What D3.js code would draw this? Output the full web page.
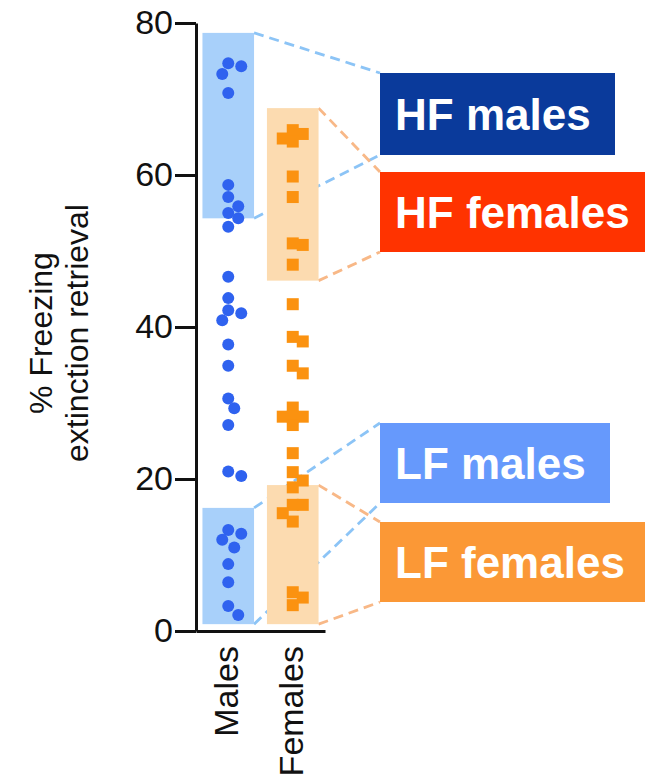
<!DOCTYPE html>
<html>
<head>
<meta charset="utf-8">
<script src="https://cdnjs.cloudflare.com/ajax/libs/d3/7.8.5/d3.min.js"></script>
<style>
  html, body { margin: 0; padding: 0; background: #fff; }
  svg { display: block; font-family: "Liberation Sans", Arial, sans-serif; }
</style>
</head>
<body>
<svg id="chart" width="645" height="779"></svg>
<script>
// Datos
const groups = ["Males", "Females"];
const maleValues = [74.7, 74.3, 73.3, 70.8, 58.7, 57.1, 55.9, 55.0, 54.3, 53.2,
  46.6, 43.8, 42.2, 41.8, 40.9, 37.7, 34.9, 30.6, 29.3, 27.1,
  21.0, 20.4, 13.3, 12.8, 12.0, 11.0, 8.8, 6.4, 3.3, 2.1];
const femaleValues = [65.9, 65.4, 64.8, 64.4, 59.8, 57.1, 51.0, 50.8, 48.2, 43.0,
  38.7, 38.1, 34.9, 33.9, 29.4, 28.2, 28.2, 28.2, 27.1, 23.4,
  20.9, 19.8, 18.9, 16.6, 16.6, 15.5, 14.4, 5.1, 4.4, 3.4];
// rangos HF / LF por grupo (Males, Females)
const hfLow = [54.3, 46.1];
const hfHigh = [78.7, 68.8];
const lfLow = [0.9, 0.9];
const lfHigh = [16.2, 19.2];
const yTicks = [0, 20, 40, 60, 80];
const labels = ["HF males", "HF females", "LF males", "LF females"];

window.onload = function() {
  const svg = d3.select("#chart");

  const y = d3.scaleLinear().domain([0, 80]).range([631, 23]);
  const x = d3.scaleBand().domain(groups).range([196, 325])
    .paddingInner(0.2).paddingOuter(0.1);

  // cajas de la leyenda
  const boxes = [
    { x: 380, y: 73, w: 235, h: 82, fill: "#0a3a9b" },
    { x: 380, y: 172, w: 270, h: 80, fill: "#ff3300" },
    { x: 380, y: 423, w: 230, h: 80, fill: "#6699fc" },
    { x: 380, y: 522, w: 270, h: 80, fill: "#fb9836" }
  ];

  // rangos sombreados
  const ranges = [
    { g: 0, lo: hfLow[0], hi: hfHigh[0], box: 0 },
    { g: 1, lo: hfLow[1], hi: hfHigh[1], box: 1 },
    { g: 0, lo: lfLow[0], hi: lfHigh[0], box: 2 },
    { g: 1, lo: lfLow[1], hi: lfHigh[1], box: 3 }
  ];
  const rectFill = ["#a8d0fa", "#fcdbb0"];
  const dashColor = ["#8cc4f6", "#f8b887"];

  // líneas discontinuas (debajo de los rectángulos)
  ranges.forEach(r => {
    const xr = x(groups[r.g]) + x.bandwidth();
    const b = boxes[r.box];
    [[y(r.hi), b.y], [y(r.lo), b.y + b.h]].forEach(p => {
      svg.append("line")
        .attr("x1", xr).attr("y1", p[0])
        .attr("x2", b.x).attr("y2", p[1])
        .attr("stroke", dashColor[r.g])
        .attr("stroke-width", 2.8)
        .attr("stroke-dasharray", "10,6");
    });
  });

  svg.selectAll(".range")
    .data(ranges)
    .enter().append("rect")
    .attr("class", "range")
    .attr("x", d => x(groups[d.g]))
    .attr("y", d => y(d.hi))
    .attr("width", x.bandwidth())
    .attr("height", d => y(d.lo) - y(d.hi))
    .attr("fill", d => rectFill[d.g]);

  // ejes
  const yAxis = svg.append("g")
    .attr("transform", "translate(196,0)")
    .call(d3.axisLeft(y).tickValues(yTicks).tickSize(21).tickSizeOuter(0).tickPadding(2));
  yAxis.select(".domain").attr("stroke", "#111").attr("stroke-width", 3);
  yAxis.selectAll(".tick line").attr("stroke", "#111").attr("stroke-width", 3);
  yAxis.selectAll(".tick text")
    .attr("fill", "#111")
    .style("font-size", "34px")
    .style("font-family", "Liberation Sans, Arial, sans-serif");

  const xAxis = svg.append("g")
    .attr("transform", "translate(0," + y(0) + ")")
    .call(d3.axisBottom(x).tickSize(0).tickSizeOuter(0));
  xAxis.select(".domain").attr("stroke", "#111").attr("stroke-width", 3);
  xAxis.selectAll(".tick text")
    .attr("transform", "rotate(-90)")
    .attr("text-anchor", "end")
    .attr("x", -15)
    .attr("y", -2)
    .attr("dy", "0.35em")
    .attr("fill", "#111")
    .style("font-size", "34px")
    .style("font-family", "Liberation Sans, Arial, sans-serif");

  // título del eje Y
  const title = svg.append("text")
    .attr("transform", "translate(0,333) rotate(-90)")
    .attr("text-anchor", "middle")
    .attr("fill", "#111")
    .style("font-size", "32px");
  title.append("tspan").attr("x", 0).attr("y", 52).text("% Freezing");
  title.append("tspan").attr("x", 0).attr("y", 88).text("extinction retrieval");

  // beeswarm sencillo para separar puntos
  function swarm(values, size, round) {
    const placed = [];
    return values.map(v => {
      const py = y(v);
      const offsets = [0, 6, -6, 10, -10, 3, -3, 13, -13];
      let px = 0;
      for (const o of offsets) {
        const ok = placed.every(p => {
          const dx = Math.abs(p.px - o), dy = Math.abs(p.py - py);
          return round ? (dx * dx + dy * dy >= size * size) : (dx >= size || dy >= size);
        });
        if (ok) { px = o; break; }
      }
      const pt = { v: v, px: px, py: py };
      placed.push(pt);
      return pt;
    });
  }

  const cx0 = x("Males") + x.bandwidth() / 2;
  const cx1 = x("Females") + x.bandwidth() / 2;

  svg.selectAll(".male")
    .data(swarm(maleValues, 11, true))
    .enter().append("circle")
    .attr("class", "male")
    .attr("cx", d => cx0 + d.px)
    .attr("cy", d => d.py)
    .attr("r", 6)
    .attr("fill", "#2f62ef");

  const sq = 12;
  svg.selectAll(".female")
    .data(swarm(femaleValues, 10, false))
    .enter().append("rect")
    .attr("class", "female")
    .attr("x", d => cx1 + d.px - sq / 2)
    .attr("y", d => d.py - sq / 2)
    .attr("width", sq)
    .attr("height", sq)
    .attr("fill", "#fb9210");

  // leyenda
  boxes.forEach((b, i) => {
    svg.append("rect")
      .attr("x", b.x).attr("y", b.y)
      .attr("width", b.w).attr("height", b.h)
      .attr("fill", b.fill);
    svg.append("text")
      .attr("x", b.x + 15)
      .attr("y", b.y + b.h / 2 + 16)
      .attr("fill", "#fff")
      .style("font-size", "44px")
      .style("font-weight", "bold")
      .text(labels[i]);
  });
};
</script>
</body>
</html>
